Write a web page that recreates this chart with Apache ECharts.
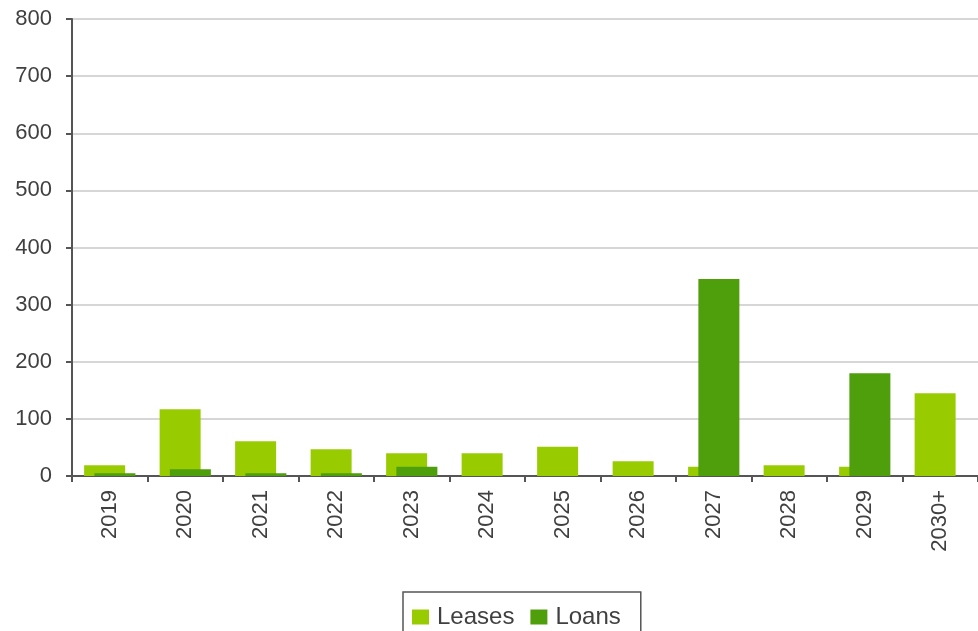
<!DOCTYPE html>
<html><head><meta charset="utf-8">
<script src="https://cdn.jsdelivr.net/npm/echarts@6/dist/echarts.min.js"></script>
<style>html,body{margin:0;padding:0;background:#fff}#c{width:978px;height:631px}</style>
</head><body><div id="c"></div>
<script>
const categories = ['2019','2020','2021','2022','2023','2024','2025','2026','2027','2028','2029','2030+'];
const leases = [19,117,61,47,40,40,51,26,16,19,16,145];
const loans = [5,12,5,5,16,0,0,0,345,0,180,0];
const chart = echarts.init(document.getElementById('c'), null, {renderer:'canvas'});
chart.setOption({
  animation:false,
  grid:{left:72,right:-5,top:19,bottom:155,containLabel:false},
  legend:{
    data:['Leases','Loans'],left:403,top:592,
    borderColor:'#555',borderWidth:1.5,padding:[13,20,12,9],
    itemWidth:17,itemHeight:15,itemGap:16,icon:'rect',
    textStyle:{fontFamily:'Liberation Sans, Arial',fontSize:24,color:'#404040',padding:[0,0,0,3]}
  },
  xAxis:{
    type:'category',data:categories,
    axisLine:{lineStyle:{color:'#555',width:2}},
    axisTick:{show:true,length:6,lineStyle:{color:'#555',width:2},alignWithLabel:false},
    axisLabel:{rotate:90,margin:14,fontFamily:'Liberation Sans, Arial',fontSize:22,color:'#404040'}
  },
  yAxis:{
    type:'value',min:0,max:800,interval:100,
    axisLine:{show:true,lineStyle:{color:'#555',width:2}},
    axisTick:{show:true,length:6,lineStyle:{color:'#555',width:2}},
    axisLabel:{margin:20,fontFamily:'Liberation Sans, Arial',fontSize:22,color:'#404040'},
    splitLine:{lineStyle:{color:'#c8c8c8',width:1.5}}
  },
  series:[
    {name:'Leases',type:'bar',data:leases,barWidth:41,barGap:'-75%',itemStyle:{color:'#99cc00'}},
    {name:'Loans',type:'bar',data:loans,barWidth:41,itemStyle:{color:'#4f9e0c'}}
  ]
});
</script></body></html>
